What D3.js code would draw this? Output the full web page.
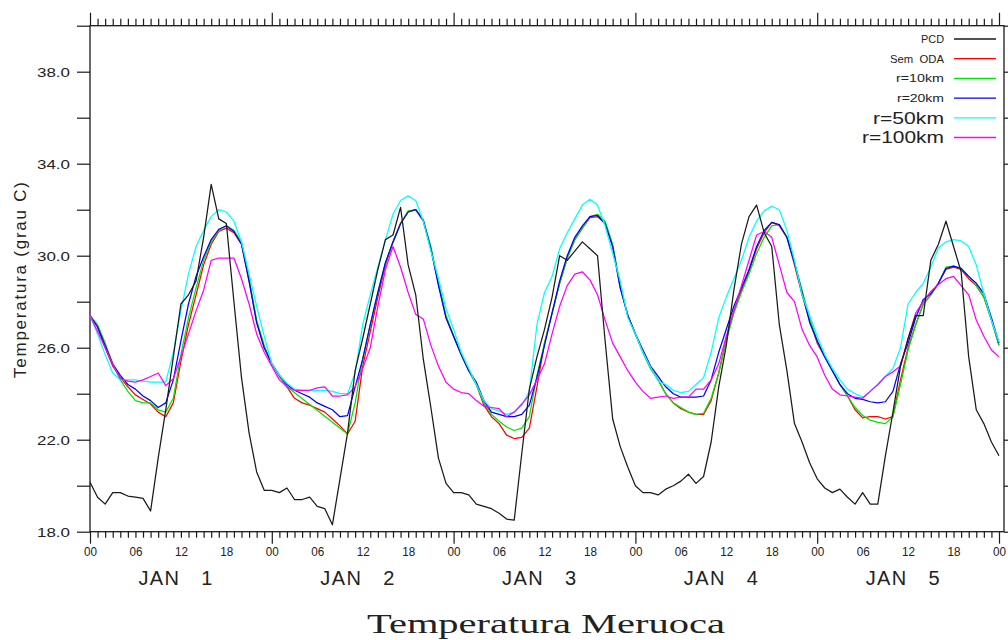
<!DOCTYPE html>
<html><head><meta charset="utf-8">
<script src="https://cdn.jsdelivr.net/npm/d3@7/dist/d3.min.js"></script>
<style>body{margin:0;background:#fff}svg{display:block}</style>
</head><body>
<svg id="chart" width="1008" height="640"></svg>
<script>
// ---- data ----
const hours = d3.range(0, 121); // hourly, 00 JAN 1 .. 00 JAN 6
const dayLabels = ["JAN   1", "JAN   2", "JAN   3", "JAN   4", "JAN   5"];
const hourLabels = ["00", "06", "12", "18"];
const yTickValues = [18, 20, 22, 24, 26, 28, 30, 32, 34, 36, 38, 40];
const yLabelValues = [18, 22, 26, 30, 34, 38];
const seriesNames = ["PCD", "Sem  ODA", "r=10km", "r=20km", "r=50km", "r=100km"];

const pcd = [
  20.15,19.5,19.2,19.7,19.7,19.55,19.5,19.45,18.9,21.2,23.3,25.6,27.9,28.3,28.9,30.8,33.1,31.6,31.4,28.0,24.7,22.3,20.6,19.8,
  19.8,19.7,19.9,19.4,19.4,19.5,19.1,19.0,18.3,20.3,22.3,25.0,26.4,27.9,29.4,30.7,30.9,32.1,29.6,28.3,25.5,23.4,21.2,20.1,
  19.7,19.7,19.6,19.2,19.1,19.0,18.8,18.55,18.5,21.4,24.2,25.6,26.8,28.2,30.0,29.8,30.2,30.6,30.3,30.0,26.3,22.9,21.7,20.8,
  20.0,19.7,19.7,19.6,19.85,20.0,20.2,20.5,20.1,20.4,21.9,24.3,26.1,28.5,30.5,31.7,32.2,31.0,30.4,27.0,25.0,22.7,21.9,21.0,
  20.3,19.9,19.7,19.85,19.5,19.2,19.7,19.2,19.2,21.3,23.2,25.2,26.4,27.4,27.4,29.8,30.5,31.5,30.4,29.3,25.6,23.3,22.7,21.9,21.3
];
const semODA = [
  27.4,26.9,26.0,25.2,24.7,24.3,23.95,23.75,23.55,23.2,23.0,23.6,25.4,27.0,28.3,29.6,30.5,31.05,31.2,31.0,30.5,28.9,27.1,26.0,
  25.3,24.75,24.3,23.8,23.6,23.5,23.35,23.2,22.9,22.6,22.25,22.8,25.2,26.7,28.2,29.6,30.6,31.4,31.9,32.0,31.5,30.3,28.8,27.3,
  26.5,25.7,25.0,24.4,23.5,23.0,22.7,22.2,22.05,22.1,22.5,24.3,26.2,27.5,28.8,29.9,30.7,31.2,31.65,31.7,31.4,30.4,28.6,27.4,
  26.6,25.8,25.1,24.6,24.0,23.6,23.35,23.2,23.1,23.1,23.7,24.9,26.4,27.6,28.5,29.3,30.3,31.0,31.45,31.3,30.8,29.6,28.3,27.2,
  26.2,25.6,25.0,24.4,23.9,23.3,22.95,23.0,23.0,22.9,23.0,24.6,26.0,27.0,27.9,28.3,28.8,29.4,29.5,29.4,29.0,28.7,28.2,27.2,26.1
];
const r10 = [
  27.4,27.0,26.2,25.3,24.6,24.1,23.7,23.6,23.6,23.3,23.2,23.8,25.7,27.3,28.6,29.8,30.6,31.1,31.3,31.1,30.6,29.0,27.2,26.1,
  25.3,24.8,24.3,null,null,null,null,null,null,null,22.25,23.6,25.5,27.0,28.4,29.7,30.6,31.4,31.95,32.0,31.55,30.4,28.8,27.4,
  26.5,25.7,25.0,24.4,23.6,23.1,22.8,22.55,22.4,22.5,23.0,24.8,26.2,27.5,28.8,29.9,30.7,31.2,31.7,31.8,31.5,30.5,28.7,27.4,
  26.6,25.8,25.1,24.6,24.0,23.6,23.4,23.2,23.1,23.15,23.8,24.9,26.3,27.5,28.4,29.2,30.1,30.8,31.3,31.35,30.8,29.7,28.5,27.3,
  26.3,25.6,25.0,24.4,23.9,23.4,23.05,22.85,22.75,22.7,23.0,24.4,25.9,27.0,27.9,28.3,28.8,29.5,29.55,29.45,29.1,28.7,28.2,27.2,26.1
];
const r20 = [
  27.4,26.9,26.1,25.3,24.8,24.4,24.2,23.9,23.7,23.4,23.6,24.6,26.3,27.9,29.1,29.95,30.7,31.15,31.3,31.05,30.5,28.9,27.1,26.0,
  25.3,24.8,24.4,24.15,24.0,23.85,23.6,23.45,23.3,23.0,23.05,24.3,25.5,27.0,28.4,29.7,30.6,31.4,31.9,32.0,31.55,30.3,28.7,27.3,
  26.5,25.7,25.0,24.5,23.7,23.2,23.1,23.0,23.0,23.1,23.5,24.7,26.1,27.5,28.9,30.0,30.8,31.3,31.7,31.75,31.4,30.4,28.6,27.4,
  26.6,25.9,25.2,24.75,24.3,24.0,23.85,23.85,23.85,23.9,24.6,25.8,26.8,27.8,28.6,29.4,30.4,31.1,31.45,31.35,30.8,29.7,28.4,27.1,
  26.3,25.6,25.0,24.4,24.0,23.8,23.75,23.65,23.6,23.65,24.1,25.3,26.2,27.3,28.1,28.35,28.8,29.45,29.55,29.45,29.1,28.8,28.35,27.3,26.2
];
const r50 = [
  27.4,26.6,25.7,24.9,24.6,24.6,24.6,24.55,24.5,24.5,24.5,25.8,27.6,29.2,30.4,31.1,31.7,32.0,31.9,31.5,30.6,29.2,27.8,26.5,
  25.3,24.8,24.45,24.2,24.15,24.15,24.15,24.15,24.1,24.0,24.0,24.9,27.0,28.3,29.5,30.7,31.8,32.4,32.6,32.4,31.5,30.2,29.0,27.7,
  26.8,25.8,25.1,24.4,23.7,23.35,23.25,23.1,23.2,23.5,24.1,27.0,28.4,29.1,30.3,31.0,31.6,32.2,32.45,32.2,31.3,30.1,28.9,27.3,
  26.6,25.8,25.15,24.55,24.4,24.15,24.05,24.1,24.4,24.7,25.8,27.3,28.2,29.0,29.8,30.8,31.5,31.95,32.15,32.0,31.1,29.8,28.3,27.4,
  26.5,25.7,25.1,24.6,24.2,24.0,23.85,24.1,24.4,24.75,25.1,26.0,27.9,28.4,28.8,29.5,30.35,30.6,30.7,30.65,30.4,29.6,28.35,27.2,26.25
];
const r100 = [
  27.4,26.7,26.0,25.3,24.65,24.55,24.5,24.6,24.75,24.9,24.35,24.65,25.6,26.6,27.6,28.5,29.8,29.9,29.9,29.9,29.0,27.9,26.6,25.8,
  25.2,24.6,24.3,24.15,24.15,24.15,24.25,24.3,23.9,23.9,23.95,24.3,25.1,26.0,27.8,29.4,30.4,29.5,28.4,27.45,27.25,26.1,25.2,24.5,
  24.2,24.05,24.0,23.7,23.45,23.4,23.35,23.0,23.2,23.55,23.95,24.6,25.3,26.6,27.8,28.7,29.2,29.3,28.95,28.3,27.2,26.2,25.6,25.0,
  24.5,24.1,23.8,23.85,23.9,23.8,23.85,23.85,24.2,24.2,24.6,25.3,26.5,27.6,28.7,29.8,30.9,31.05,30.8,29.6,28.4,28.0,26.8,26.1,
  25.6,24.8,24.2,23.95,23.9,23.85,23.8,24.1,24.4,24.75,24.95,25.2,26.4,27.5,28.0,28.45,28.75,29.0,29.1,28.7,28.3,27.2,26.5,25.9,25.6
];
const seriesData = [pcd, semODA, r10, r20, r50, r100];

// ---- styles ----
const seriesColors = ["#1a1a1a", "#ff0000", "#00e600", "#0000ff", "#00ffff", "#ff00ff"];
const legendFont = [11, 11, 11, 11, 17, 17];
const legendLen = [23, 54, 48, 47, 71, 82];

// ---- layout ----
const svg = d3.select("#chart");
const L = 90, R = 1004, T = 25.7, B = 531.7;
const x = d3.scaleLinear().domain([0, 120]).range([L, 999]);
const y = d3.scaleLinear().domain([18, 40]).range([B, T]);
const font = "'Liberation Sans', Arial, sans-serif";
const ink = "#1a1a1a";

// frame
svg.append("rect").attr("x", L).attr("y", T).attr("width", R - L).attr("height", B - T)
  .attr("fill", "none").attr("stroke", ink).attr("stroke-width", 1.3);

// left axis
const gl = svg.append("g").attr("transform", `translate(${L},0)`)
  .call(d3.axisLeft(y).tickValues(yTickValues).tickSize(13).tickSizeOuter(0).tickPadding(7)
    .tickFormat(d => yLabelValues.includes(d) ? d.toFixed(1) : ""));
// right axis
const gr = svg.append("g").attr("transform", `translate(${R},0)`)
  .call(d3.axisRight(y).tickValues(yTickValues).tickSize(13).tickSizeOuter(0).tickFormat(""));
// bottom axis
const gb = svg.append("g").attr("transform", `translate(0,${B})`)
  .call(d3.axisBottom(x).tickValues(hours).tickSize(6).tickSizeOuter(0)
    .tickFormat(h => h % 6 === 0 ? hourLabels[(h % 24) / 6] : ""));
// top axis
const gt = svg.append("g").attr("transform", `translate(0,${T})`)
  .call(d3.axisTop(x).tickValues(hours).tickSize(7).tickSizeOuter(0).tickFormat(""));

[gl, gr, gb, gt].forEach(g => {
  g.select(".domain").remove();
  g.selectAll("line").attr("stroke", ink).attr("stroke-width", 1.2);
});
gb.selectAll(".tick").filter(h => h % 24 === 0).select("line").attr("y2", 12);
gt.selectAll(".tick").filter(h => h % 24 === 0).select("line").attr("y2", -13);

gl.selectAll("text").attr("font-family", font).attr("font-size", 13.5).attr("fill", "#222")
  .attr("textLength", 33).attr("lengthAdjust", "spacingAndGlyphs");
gb.selectAll("text").attr("font-family", font).attr("font-size", 13.5).attr("fill", "#222")
  .attr("y", 15).attr("dy", "0.71em")
  .attr("textLength", d => d % 6 === 0 ? 13 : null).attr("lengthAdjust", "spacingAndGlyphs");

// day labels
svg.append("g").selectAll("text").data(dayLabels).join("text")
  .attr("x", (d, i) => x(i * 24 + 6) + 3).attr("y", 585)
  .attr("font-family", font).attr("font-size", 20).attr("fill", "#222")
  .attr("textLength", 74).attr("lengthAdjust", "spacing")
  .style("white-space", "pre").text(d => d);

// y title
svg.append("text").attr("transform", "translate(26,280) rotate(-90)")
  .attr("text-anchor", "middle").attr("font-family", font).attr("font-size", 17).attr("fill", "#222")
  .attr("textLength", 196).attr("lengthAdjust", "spacing").text("Temperatura (grau C)");

// title
svg.append("text").attr("x", 546).attr("y", 633).attr("text-anchor", "middle")
  .attr("font-family", "'Liberation Serif', 'DejaVu Serif', serif").attr("font-size", 28).attr("fill", "#222")
  .attr("textLength", 358).attr("lengthAdjust", "spacingAndGlyphs").text("Temperatura Meruoca");

// lines
const line = d3.line().x(d => x(d[0])).y(d => y(d[1]));
const order = [1, 2, 3, 4, 5, 0];
svg.append("g").selectAll("path").data(order).join("path")
  .attr("d", i => line(hours.map((h, k) => [h, seriesData[i][k]]).filter(p => p[1] != null)))
  .attr("fill", "none").attr("stroke", i => seriesColors[i]).attr("stroke-width", 1.25)
  .attr("stroke-linejoin", "round");

// legend
const lg = svg.append("g").selectAll("g").data(seriesNames).join("g")
  .attr("transform", (d, i) => `translate(0,${39 + i * 19.7})`);
lg.append("text").attr("x", 944).attr("y", 0).attr("dy", "0.35em").attr("text-anchor", "end")
  .attr("font-family", font).attr("font-size", (d, i) => legendFont[i]).attr("fill", "#222")
  .attr("textLength", (d, i) => legendLen[i]).attr("lengthAdjust", "spacingAndGlyphs")
  .style("white-space", "pre").text(d => d);
lg.append("line").attr("x1", 954).attr("x2", 996).attr("y1", 0).attr("y2", 0)
  .attr("stroke", (d, i) => seriesColors[i]).attr("stroke-width", 1.3);
</script>
</body></html>
